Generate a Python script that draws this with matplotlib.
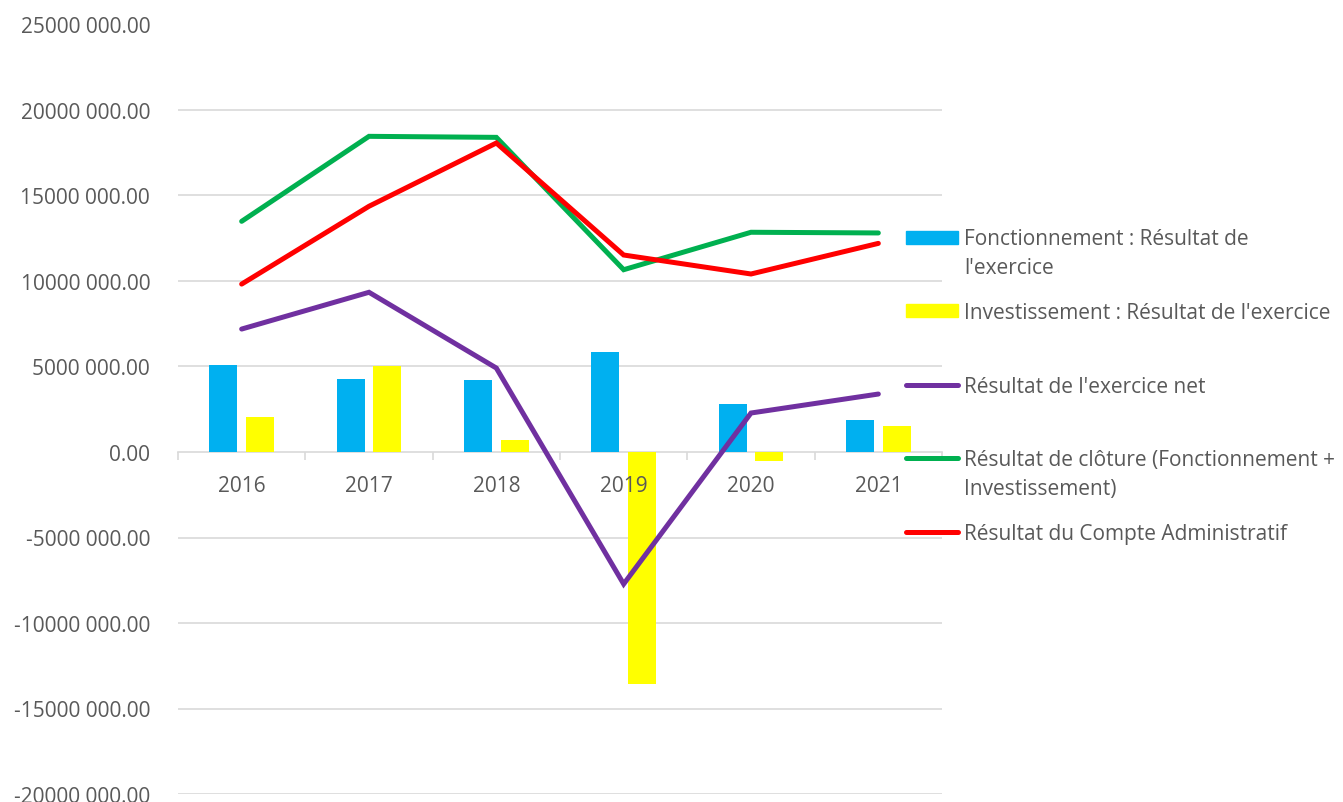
import matplotlib
matplotlib.use("Agg")
import matplotlib.pyplot as plt
from matplotlib.lines import Line2D
from matplotlib.patches import Rectangle
import matplotlib.ticker as mticker
import numpy as np

years = ["2016", "2017", "2018", "2019", "2020", "2021"]
fonct = [5090000, 4270000, 4190000, 5870000, 2790000, 1870000]
invest = [2050000, 5010000, 720000, -13570000, -530000, 1540000]
net = [7190000, 9340000, 4910000, -7720000, 2280000, 3390000]
cloture = [13490000, 18460000, 18400000, 10660000, 12850000, 12810000]
compte = [9820000, 14370000, 18070000, 11520000, 10410000, 12200000]

names = ["Fonctionnement : Résultat de\nl'exercice",
         "Investissement : Résultat de l'exercice",
         "Résultat de l'exercice net",
         "Résultat de clôture (Fonctionnement +\nInvestissement)",
         "Résultat du Compte Administratif"]
colors = ["#00B0F0", "#FFFF00", "#7030A0", "#00B050", "#FF0000"]
kinds = ["bar", "bar", "line", "line", "line"]

TXT = "#595959"
GRID = "#D9D9D9"
FONT = "Open Sans"
FS = 15

W, H = 1343, 803
fig = plt.figure(figsize=(W / 100, H / 100), dpi=100)
left, right = 178 / W, 942 / W
top, bottom = 1 - 25.5 / H, 1 - 795 / H
ax = fig.add_axes([left, bottom, right - left, top - bottom])

x = np.arange(len(years))
bw = 0.22
off = 0.145
ax.bar(x - off, fonct, width=bw, color=colors[0], zorder=2)
ax.bar(x + off, invest, width=bw, color=colors[1], zorder=2)
lw = 3.6
for vals, c in zip([net, cloture, compte], colors[2:]):
    ax.plot(x, vals, color=c, lw=lw, solid_capstyle="round",
            solid_joinstyle="miter", zorder=3)

ax.set_xlim(-0.5, len(years) - 0.5)
ax.set_ylim(-20000000, 25000000)
ax.yaxis.set_major_locator(mticker.MultipleLocator(5000000))


def fmt(v, pos):
    s = f"{abs(v):.2f}"
    ip, dp = s.split(".")
    if len(ip) > 3:
        ip = ip[:-3] + " " + ip[-3:]
    return ("-" if v < 0 else "") + ip + "." + dp


ax.yaxis.set_major_formatter(mticker.FuncFormatter(fmt))
# gridlines drawn beneath bars
for gv in ax.get_yticks():
    if -20000000 <= gv <= 25000000 and gv != 0:
        ax.axhline(gv, color=GRID, lw=1.2, zorder=0)
for s in ["left", "right", "top"]:
    ax.spines[s].set_visible(False)
ax.spines["bottom"].set_position(("data", 0))
ax.spines["bottom"].set_color(GRID)
ax.spines["bottom"].set_linewidth(1.2)
ax.spines["bottom"].set_zorder(1)
ax.xaxis.set_zorder(4)

ax.set_xticks(np.arange(-0.5, len(years), 1.0))
ax.set_xticklabels([])
ax.tick_params(axis="x", which="major", length=6, color=GRID, width=1.2)
ax.set_xticks(x, minor=True)
ax.set_xticklabels(years, minor=True, fontfamily=FONT, fontsize=FS, color=TXT)
ax.tick_params(axis="x", which="minor", length=0, pad=16.5)
ax.tick_params(axis="y", length=0, pad=20, labelcolor=TXT, labelsize=FS)
for t in ax.get_yticklabels():
    t.set_fontfamily(FONT)

# legend (manual, handles aligned to first text line)
y0 = 238
dy = 73.8
for i, (nm, c, k) in enumerate(zip(names, colors, kinds)):
    yc = 1 - (y0 + dy * i) / H
    if k == "bar":
        fig.patches.append(Rectangle((906 / W, yc - 6.5 / H), 52 / W, 13 / H,
                                     transform=fig.transFigure, color=c))
    else:
        fig.lines.append(Line2D([906 / W, 958 / W], [yc, yc], transform=fig.transFigure,
                                color=c, lw=lw, solid_capstyle="round"))
    fig.text(964 / W, yc + 9 / H, nm, fontfamily=FONT, fontsize=FS, color=TXT,
             va="top", ha="left", linespacing=1.5)

fig.savefig("out.png", dpi=100)
